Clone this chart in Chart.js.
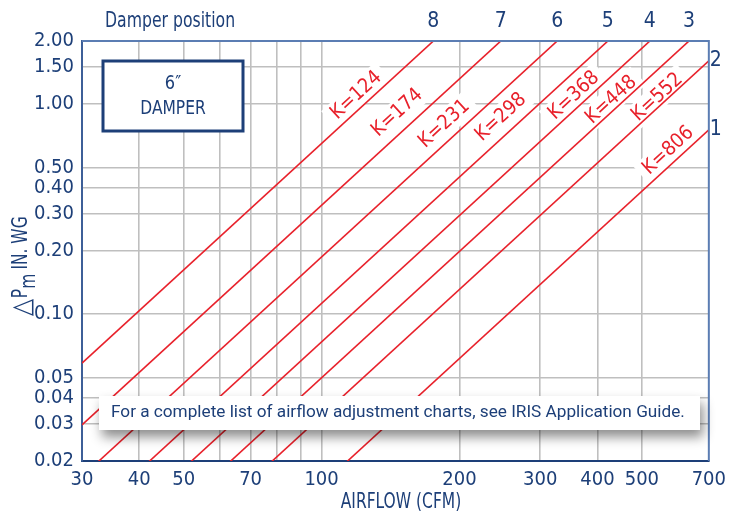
<!DOCTYPE html>
<html>
<head>
<meta charset="utf-8">
<title>6" damper airflow chart</title>
<script src="https://cdn.jsdelivr.net/npm/chart.js@4.4.1/dist/chart.umd.min.js"></script>
<style>
  html, body { margin: 0; padding: 0; background: #fff; }
  canvas { display: block; }
</style>
</head>
<body>
<canvas id="damper-chart" width="733" height="514"></canvas>
<script>
// Damper curves: pressure drop = (airflow / K)^2, one line per damper position
const airflowEnds = [30, 700];
const kValues = [124, 174, 231, 298, 368, 448, 552, 806];
const damperPositions = ['8', '7', '6', '5', '4', '3', '2', '1'];

const xTickValues = [30, 40, 50, 60, 70, 80, 90, 100, 200, 300, 400, 500, 700];
const xTickLabels = ['30', '40', '50', '', '70', '', '', '100', '200', '300', '400', '500', '700'];
const yTickValues = [0.02, 0.03, 0.04, 0.05, 0.1, 0.2, 0.3, 0.4, 0.5, 1, 1.5, 2];
const yTickLabels = ['0.02', '0.03', '0.04', '0.05', '0.10', '0.20', '0.30', '0.40', '0.50', '1.00', '1.50', '2.00'];

// where each "K=" tag sits along its line, and how far above it
const labelFlow = [124, 155, 195, 260, 369, 442, 555, 595];
const labelGap = [12, 17, 15, 16, 11, 9, 8, 12];

const NAVY = '#1d3f78';
const FRAME = '#5b7db3';
const RED = '#e8212b';
const GRID = '#bfbfbf';
const NARROW = "'Liberation Sans Narrow', 'DejaVu Sans Condensed', sans-serif";

const datasets = kValues.map(k => ({
    label: 'K=' + k,
    data: airflowEnds.map(q => ({ x: q, y: (q / k) * (q / k) })),
    showLine: true,
    borderColor: RED,
    borderWidth: 1.6,
    pointRadius: 0,
    fill: false
}));

function labelPlacement(chart, i) {
    const xs = chart.scales.x, ys = chart.scales.y;
    const pts = chart.getDatasetMeta(i).data;
    const a = Math.atan2(pts[1].y - pts[0].y, pts[1].x - pts[0].x);
    const q = labelFlow[i], k = kValues[i];
    const px = xs.getPixelForValue(q);
    const py = ys.getPixelForValue((q / k) * (q / k));
    return {
        x: px + labelGap[i] * Math.sin(a),
        y: py - labelGap[i] * Math.cos(a),
        angle: a
    };
}

// text squeezed horizontally, to get a condensed face
function narrowText(ctx, text, x, y, sx) {
    ctx.save();
    ctx.translate(x, y);
    ctx.scale(sx, 1);
    ctx.fillText(text, 0, 0);
    ctx.restore();
}

const decorations = {
    id: 'decorations',
    beforeDatasetsDraw(chart) {
        // white patches behind the K tags knock out the grid
        const ctx = chart.ctx;
        ctx.save();
        ctx.font = '20px ' + NARROW;
        kValues.forEach((k, i) => {
            const p = labelPlacement(chart, i);
            const w = ctx.measureText('K=' + k).width;
            ctx.save();
            ctx.translate(p.x, p.y);
            ctx.rotate(p.angle);
            ctx.fillStyle = '#fff';
            ctx.fillRect(-w / 2 - 6, -12, w + 12, 24);
            ctx.restore();
        });
        ctx.restore();
    },
    afterDatasetsDraw(chart) {
        const ctx = chart.ctx;
        const area = chart.chartArea;
        const xs = chart.scales.x, ys = chart.scales.y;
        ctx.save();

        // K tags
        ctx.font = '20px ' + NARROW;
        ctx.fillStyle = RED;
        ctx.textAlign = 'center';
        ctx.textBaseline = 'middle';
        kValues.forEach((k, i) => {
            const p = labelPlacement(chart, i);
            ctx.save();
            ctx.translate(p.x, p.y);
            ctx.rotate(p.angle);
            ctx.fillText('K=' + k, 0, 0);
            ctx.restore();
        });

        // top and right frame
        ctx.strokeStyle = FRAME;
        ctx.lineWidth = 2;
        ctx.beginPath();
        ctx.moveTo(area.left, area.top);
        ctx.lineTo(area.right, area.top);
        ctx.lineTo(area.right, area.bottom);
        ctx.stroke();

        // damper position numbers at the line ends
        ctx.fillStyle = NAVY;
        ctx.font = '21px ' + NARROW;
        const yMax = ys.max, xMax = xs.max;
        kValues.forEach((k, i) => {
            const qTop = k * Math.sqrt(yMax);
            if (qTop <= xMax) {
                ctx.fillText(damperPositions[i], xs.getPixelForValue(qTop), 22);
            } else {
                ctx.fillText(damperPositions[i], area.right + 7, ys.getPixelForValue((xMax / k) * (xMax / k)));
            }
        });
        ctx.textAlign = 'left';
        narrowText(ctx, 'Damper position', 105, 22, 0.83);

        // damper size box
        ctx.fillStyle = '#fff';
        ctx.fillRect(103, 61, 140, 70);
        ctx.strokeStyle = NAVY;
        ctx.lineWidth = 3;
        ctx.strokeRect(103, 61, 140, 70);
        ctx.fillStyle = NAVY;
        ctx.textAlign = 'center';
        ctx.font = '20px ' + NARROW;
        narrowText(ctx, '6\u2033', 173, 84, 0.9);
        narrowText(ctx, 'DAMPER', 173, 109, 0.86);

        // note with drop shadow
        ctx.save();
        ctx.shadowColor = 'rgba(0,0,0,0.45)';
        ctx.shadowBlur = 12;
        ctx.shadowOffsetX = 3;
        ctx.shadowOffsetY = 7;
        ctx.fillStyle = '#fff';
        ctx.fillRect(99, 396, 601, 34);
        ctx.restore();
        ctx.fillStyle = NAVY;
        ctx.textAlign = 'left';
        ctx.font = "17.2px Roboto, 'Open Sans', sans-serif";
        ctx.fillText('For a complete list of airflow adjustment charts, see IRIS Application Guide.', 111, 413);

        // axis titles
        ctx.font = '21px ' + NARROW;
        ctx.textAlign = 'center';
        narrowText(ctx, 'AIRFLOW (CFM)', 401, 503, 0.82);

        ctx.save();
        ctx.translate(27, 316);
        ctx.rotate(-Math.PI / 2);
        ctx.scale(0.82, 1);
        ctx.textAlign = 'left';
        ctx.textBaseline = 'alphabetic';
        ctx.font = "27px 'DejaVu Sans', sans-serif";
        ctx.fillText('\u25B3', 0, 3);
        let cx = ctx.measureText('\u25B3').width + 1;
        ctx.font = '21px ' + NARROW;
        ctx.fillText('P', cx, 0);
        cx += ctx.measureText('P').width;
        ctx.fillText('m', cx, 8);
        cx += ctx.measureText('m').width + 5;
        ctx.fillText('IN. WG', cx, 0);
        ctx.restore();

        ctx.restore();
    }
};

new Chart(document.getElementById('damper-chart'), {
    type: 'scatter',
    data: { datasets },
    options: {
        responsive: false,
        animation: false,
        events: [],
        layout: { padding: { top: 41, right: 12, left: 0, bottom: 0 } },
        plugins: {
            legend: { display: false },
            tooltip: { enabled: false }
        },
        scales: {
            x: {
                type: 'logarithmic',
                min: airflowEnds[0],
                max: airflowEnds[1],
                afterBuildTicks: s => { s.ticks = xTickValues.map(v => ({ value: v })); },
                afterFit: s => { s.height = 53; },
                ticks: {
                    autoSkip: false,
                    maxRotation: 0,
                    padding: 7,
                    color: NAVY,
                    font: { family: NARROW, size: 20 },
                    callback: (v, i) => xTickLabels[i]
                },
                grid: {
                    drawTicks: false,
                    lineWidth: 1.6,
                    color: c => (c.index === 0 || c.index === xTickValues.length - 1) ? 'rgba(0,0,0,0)' : GRID
                },
                border: { color: NAVY, width: 2 }
            },
            y: {
                type: 'logarithmic',
                min: 0.02,
                max: 2,
                afterBuildTicks: s => { s.ticks = yTickValues.map(v => ({ value: v })); },
                afterFit: s => { s.width = 82; },
                ticks: {
                    autoSkip: false,
                    padding: 8,
                    color: NAVY,
                    font: { family: NARROW, size: 20 },
                    callback: (v, i) => yTickLabels[i]
                },
                grid: {
                    drawTicks: false,
                    lineWidth: 1.6,
                    color: c => (c.index === 0 || c.index === yTickValues.length - 1) ? 'rgba(0,0,0,0)' : GRID
                },
                border: { color: '#3d5f98', width: 2 }
            }
        }
    },
    plugins: [decorations]
});
</script>
</body>
</html>
